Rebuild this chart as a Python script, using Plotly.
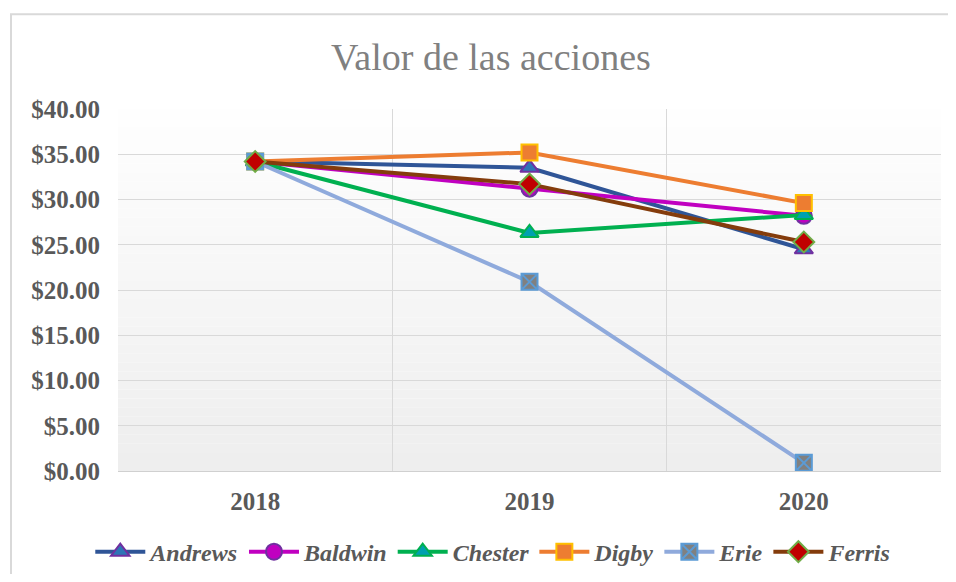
import plotly.graph_objects as go

years = ["2018", "2019", "2020"]
andrews = [34.2, 33.5, 24.5]
baldwin = [34.2, 31.2, 28.2]
chester = [34.2, 26.3, 28.3]
digby = [34.2, 35.2, 29.6]
erie = [34.2, 20.9, 0.9]
ferris = [34.2, 31.7, 25.3]

series = [
    ("Andrews", andrews, "#2f5597", "triangle-up", "#2e75b6", "#7030a0"),
    ("Baldwin", baldwin, "#c000c0", "circle", "#c000c0", "#7030a0"),
    ("Chester", chester, "#00b050", "triangle-up", "#00a0b0", "#00b050"),
    ("Digby", digby, "#ed7d31", "square", "#ed7d31", "#ffc000"),
    ("Erie", erie, "#8faadc", "square-x", "#808080", "#5b9bd5"),
    ("Ferris", ferris, "#843c0c", "diamond", "#c00000", "#70ad47"),
]

fig = go.Figure()
for name, vals, lc, sym, fc, oc in series:
    fig.add_trace(go.Scatter(
        x=[0, 1, 2], y=vals, name=name, mode="lines+markers",
        line=dict(color=lc, width=4),
        marker=dict(symbol=sym, size=16, color=fc, line=dict(color=oc, width=2)),
    ))

# soft vertical gradient in plot area
n = 40
for i in range(n):
    g = int(255 - (255 - 238) * (i + 0.5) / n)
    fig.add_shape(type="rect", xref="x domain", yref="y domain",
                  x0=0, x1=1, y0=1 - (i + 1) / n, y1=1 - i / n,
                  fillcolor=f"rgb({g},{g},{g})", line_width=0, layer="below")

# outer chart border (right/bottom edges fall outside the view)
fig.add_shape(type="rect", xref="paper", yref="paper",
              x0=-0.13, x1=1.1, y0=-0.40, y1=1.262,
              line=dict(color="#d9d9d9", width=2), fillcolor="rgba(0,0,0,0)")

tickfont = dict(family="Liberation Serif", size=25, color="#595959", weight="bold")

fig.update_layout(
    width=940, height=566,
    margin=dict(l=110, r=7, t=101, b=103, autoexpand=False),
    paper_bgcolor="white", plot_bgcolor="white",
    title=dict(text="Valor de las acciones", x=0.5138, xref="container", xanchor="center",
               y=0.9134, yref="container", yanchor="middle",
               font=dict(family="Liberation Serif", size=38, color="#808080")),
    xaxis=dict(range=[-0.5, 2.5], tickvals=[0, 1, 2], ticktext=years,
               showgrid=False, zeroline=False, tickfont=tickfont,
               showline=True, linecolor="#d0d0d0", linewidth=1, ticks="",
               ticklabelstandoff=8,
               minor=dict(tickvals=[-0.5, 0.5, 1.5, 2.5], showgrid=True,
                          gridcolor="#d9d9d9", gridwidth=1, ticks="")),
    yaxis=dict(range=[0, 40], dtick=5, tickprefix="$", tickformat=".2f",
               showgrid=True, gridcolor="#d9d9d9", gridwidth=1, zeroline=False,
               tickfont=tickfont, ticklabelstandoff=17),
    legend=dict(orientation="h", x=0.456, xanchor="center", y=-0.224, yanchor="middle",
                font=dict(family="Liberation Serif", size=24, color="#595959",
                          weight="bold", style="italic"),
                itemwidth=50, tracegroupgap=0, bgcolor="rgba(0,0,0,0)"),
    showlegend=True,
)

fig.write_html("out.html")
